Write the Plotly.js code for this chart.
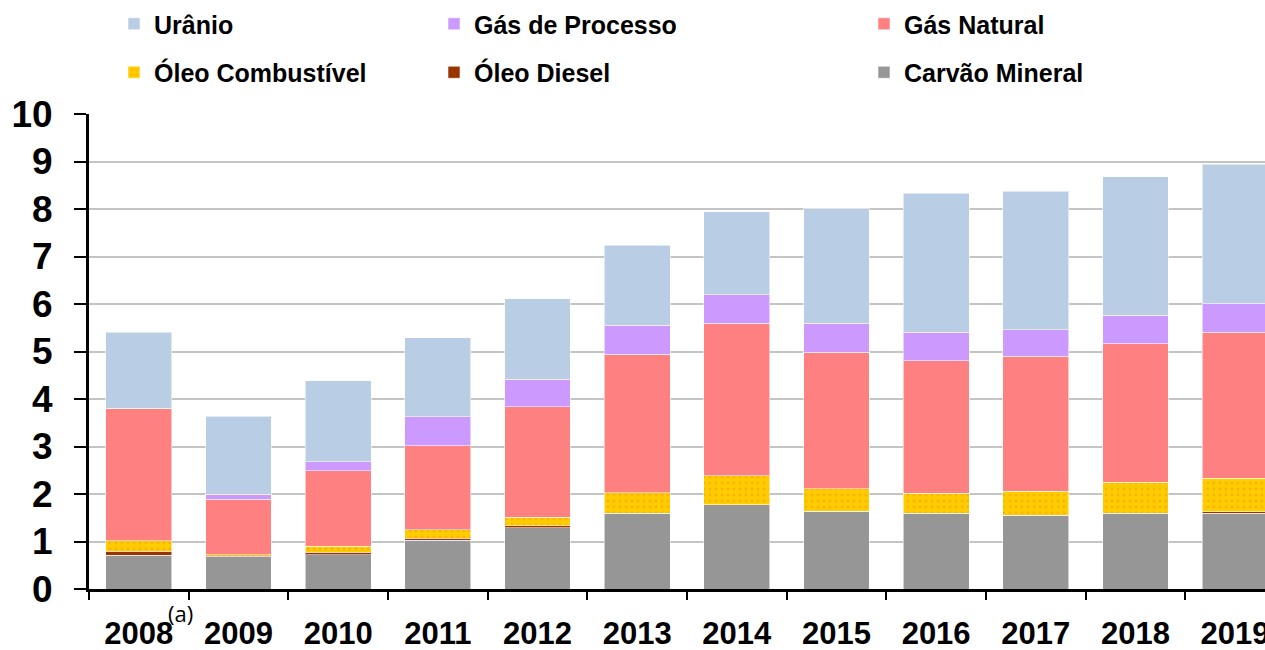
<!DOCTYPE html>
<html>
<head>
<meta charset="utf-8">
<script src="https://cdn.plot.ly/plotly-3.0.1.min.js"></script>
<style>html,body{margin:0;padding:0;background:#fff;}#chart{width:1265px;height:650px;}</style>
</head>
<body>
<div id="chart"></div>
<script>
const years = ['2008','2009','2010','2011','2012','2013','2014','2015','2016','2017','2018','2019'];
const carvaoMineral   = [0.71,0.68,0.72,1.03,1.29,1.60,1.77,1.64,1.59,1.55,1.59,1.59];
const oleoDiesel      = [0.09,0.01,0.05,0.04,0.04,0.00,0.00,0.00,0.00,0.00,0.00,0.04];
const oleoCombustivel = [0.22,0.03,0.13,0.18,0.18,0.43,0.61,0.47,0.43,0.51,0.66,0.70];
const gasNatural      = [2.79,1.17,1.59,1.77,2.33,2.91,3.21,2.87,2.79,2.84,2.91,3.08];
const gasProcesso     = [0.00,0.10,0.19,0.61,0.58,0.61,0.61,0.61,0.60,0.56,0.60,0.60];
const uranio          = [1.60,1.65,1.70,1.66,1.69,1.69,1.74,2.42,2.92,2.91,2.92,2.93];
const yTicks = [0,1,2,3,4,5,6,7,8,9,10];

const FONT = '"Liberation Sans", Arial, Helvetica, sans-serif';
const edge = {color:'rgba(255,255,255,0.55)', width:1};

function bar(name, vals, color, legend, rank, extra) {
  return {type:'bar', name:name, x:years, y:vals, legend:legend, legendgroup:name, legendrank:rank,
    marker:Object.assign({color:color, line:edge}, extra||{}), hoverinfo:'x+y+name'};
}

const traces = [
  bar('Carvão Mineral', carvaoMineral, '#969696', 'legend3', 2),
  bar('Óleo Diesel', oleoDiesel, '#993300', 'legend2', 2),
  bar('Óleo Combustível', oleoCombustivel, '#ffcc00', 'legend', 2,
      {pattern:{shape:'.', fillmode:'overlay', fgcolor:'#f59a00', size:6, solidity:0.18}}),
  bar('Gás Natural', gasNatural, '#ff8080', 'legend3', 1),
  bar('Gás de Processo', gasProcesso, '#cc99ff', 'legend2', 1),
  bar('Urânio', uranio, '#b9cde5', 'legend', 1)
];

const legFont = {family:FONT, size:25, color:'#000', weight:700};
function leg(x) {
  return {xref:'container', yref:'container', x:x, y:1-1/650, xanchor:'left', yanchor:'top',
    orientation:'v', traceorder:'grouped', tracegroupgap:13, font:legFont,
    bgcolor:'rgba(0,0,0,0)', borderwidth:0, itemwidth:30};
}

const layout = {
  width:1265, height:650,
  margin:{l:89, r:0, t:114, b:61, autoexpand:false},
  paper_bgcolor:'#fff', plot_bgcolor:'#fff',
  barmode:'stack', bargap:0.34,
  showlegend:true,
  legend:leg(114/1265),
  legend2:leg(434/1265),
  legend3:leg(864/1265),
  xaxis:{type:'category', range:[-0.5, 11.3], tickson:'boundaries', ticks:'outside', ticklen:8,
    tickwidth:2, tickcolor:'#000', showline:true, linecolor:'#000', linewidth:3,
    showgrid:false, ticklabelstandoff:15, tickangle:0, automargin:false,
    tickfont:{family:FONT, size:31, color:'#000', weight:700}, fixedrange:true},
  yaxis:{range:[0,10], tickvals:yTicks, ticktext:yTicks.map(String), ticks:'outside', ticklen:12,
    tickwidth:2, tickcolor:'#000', showline:true, linecolor:'#000', linewidth:3, automargin:false,
    showgrid:true, gridcolor:'#c4c4c4', gridwidth:2, zeroline:false, ticklabelstandoff:14,
    tickfont:{family:FONT, size:37, color:'#000', weight:700}, fixedrange:true},
  annotations:[{xref:'paper', yref:'paper', x:(180-89)/1176, y:-(613-589)/475, text:'(a)',
    showarrow:false, xanchor:'center', yanchor:'middle',
    font:{family:'"Open Sans", "Liberation Sans", Arial, sans-serif', size:22, color:'#000'}}]
};

Plotly.newPlot('chart', traces, layout, {displayModeBar:false, staticPlot:true});
</script>
</body>
</html>
